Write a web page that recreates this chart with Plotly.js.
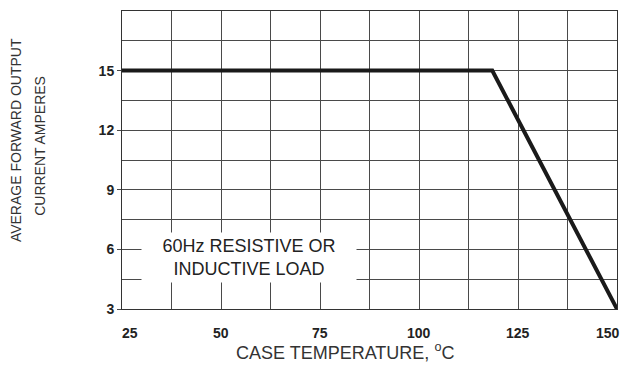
<!DOCTYPE html>
<html>
<head>
<meta charset="utf-8">
<script src="https://cdn.plot.ly/plotly-3.0.1.min.js"></script>
<style>html,body{margin:0;padding:0;background:#fff;}#chart{width:623px;height:374px;}</style>
</head>
<body>
<div id="chart"></div>
<script>
// Data
const caseTemp = [25, 118.5, 150];          // °C
const avgCurrent = [15, 15, 3];             // A
const xTickVals = [25, 50, 75, 100, 125, 150];
const yTickVals = [3, 6, 9, 12, 15];
const xTitle = 'CASE TEMPERATURE, <sup>o</sup>C';
const yTitleLines = ['AVERAGE FORWARD OUTPUT', 'CURRENT AMPERES'];
const noteText = '60Hz RESISTIVE OR<br>INDUCTIVE LOAD';

const FONT = 'Arial, "Liberation Sans", sans-serif';
const GRID = '#4a4a4a';

const trace = {
  x: caseTemp, y: avgCurrent, mode: 'lines', type: 'scatter',
  line: {color: '#1a1a1a', width: 4}, hoverinfo: 'skip', showlegend: false, cliponaxis: false
};

// x tick labels drawn as annotations so the end labels can sit inside the frame like the reference
const lastIdx = xTickVals.length - 1;
const xTickAnnotations = xTickVals.map((v, i) => ({
  x: v, y: 0, xref: 'x', yref: 'paper', text: String(v), showarrow: false,
  xanchor: 'center', yanchor: 'middle', yshift: -24,
  xshift: i === 0 ? 8 : (i === lastIdx ? -9 : 0),
  font: {size: 14, family: FONT, color: '#222', weight: 'bold'}
}));

const layout = {
  width: 623, height: 374,
  margin: {l: 122, r: 6, t: 11, b: 65},
  paper_bgcolor: '#fff', plot_bgcolor: '#fff',
  font: {family: FONT, color: '#222'},
  xaxis: {
    range: [25, 150], tickvals: xTickVals, showticklabels: false,
    showgrid: true, gridcolor: GRID, gridwidth: 1,
    minor: {dtick: 12.5, tick0: 25, showgrid: true, gridcolor: GRID, gridwidth: 1},
    showline: true, mirror: true, linecolor: '#333', linewidth: 1,
    ticks: '', zeroline: false
  },
  yaxis: {
    range: [3, 18], tickvals: yTickVals, ticktext: yTickVals.map(String),
    showgrid: true, gridcolor: GRID, gridwidth: 1,
    minor: {dtick: 1.5, tick0: 3, showgrid: true, gridcolor: GRID, gridwidth: 1},
    showline: true, mirror: true, linecolor: '#333', linewidth: 1,
    ticks: 'outside', ticklen: 4, tickcolor: GRID, zeroline: false,
    tickfont: {size: 14, family: FONT, color: '#222', weight: 'bold'}
  },
  annotations: xTickAnnotations.concat([
    {
      x: 57, y: 5.6, xref: 'x', yref: 'y', text: noteText, showarrow: false,
      font: {size: 18, family: FONT, color: '#222'},
      bgcolor: '#fff', width: 212, height: 47, align: 'center',
      xanchor: 'center', yanchor: 'middle'
    },
    {
      x: 0.4505, y: -0.144, xref: 'paper', yref: 'paper', text: xTitle, showarrow: false,
      font: {size: 18, family: FONT, color: '#333'}, xanchor: 'center', yanchor: 'middle'
    },
    {
      x: -0.214, y: 0.567, xref: 'paper', yref: 'paper', text: yTitleLines[0], showarrow: false,
      textangle: -90, font: {size: 14, family: FONT, color: '#333'}, xanchor: 'center', yanchor: 'middle'
    },
    {
      x: -0.166, y: 0.547, xref: 'paper', yref: 'paper', text: yTitleLines[1], showarrow: false,
      textangle: -90, font: {size: 14, family: FONT, color: '#333'}, xanchor: 'center', yanchor: 'middle'
    }
  ])
};

Plotly.newPlot('chart', [trace], layout, {staticPlot: true, displayModeBar: false});
</script>
</body>
</html>
